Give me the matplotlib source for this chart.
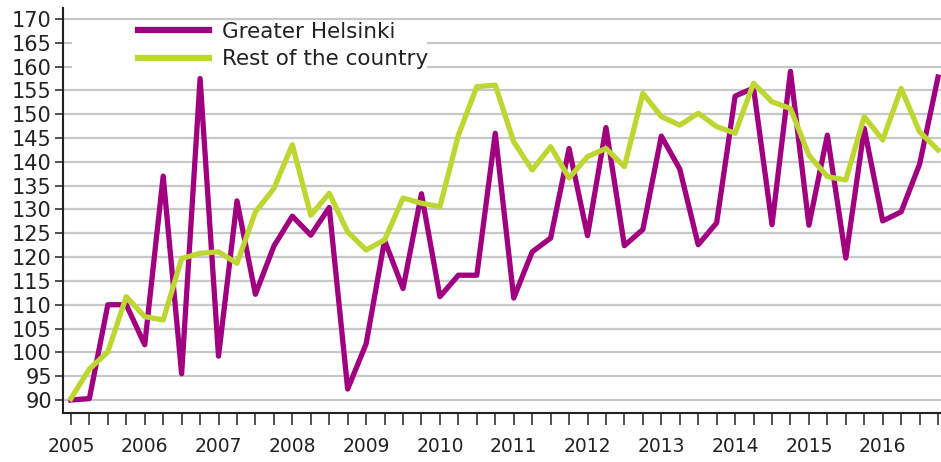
import matplotlib
matplotlib.use("Agg")
import matplotlib.pyplot as plt
from matplotlib.patches import Rectangle

years = ["2005", "2006", "2007", "2008", "2009", "2010",
         "2011", "2012", "2013", "2014", "2015", "2016"]
series_names = ["Greater Helsinki", "Rest of the country"]
helsinki = [90, 90.3, 110, 110, 101.6, 137, 95.5, 157.5, 99.2, 131.8, 112.2, 122.3,
            128.6, 124.6, 130.4, 92.3, 101.8, 123.5, 113.4, 133.3, 111.7, 116.2, 116.2, 146,
            111.4, 121.1, 124, 142.8, 124.5, 147.2, 122.4, 125.8, 145.4, 138.5, 122.6, 127.2,
            153.8, 155.5, 126.8, 159, 126.7, 145.6, 119.8, 147, 127.6, 129.5, 139.5, 157.8]
rest = [90.3, 96.5, 100.1, 111.7, 107.5, 106.8, 119.7, 120.8, 121.1, 118.7, 129.5, 134.4,
        143.6, 128.8, 133.4, 125.3, 121.5, 123.6, 132.4, 131.3, 130.6, 145.6, 155.8, 156.1,
        144.2, 138.3, 143.2, 136.6, 141.1, 142.8, 139, 154.4, 149.5, 147.7, 150.2, 147.4,
        146, 156.5, 152.6, 151.2, 141.4, 136.9, 136.2, 149.5, 144.6, 155.4, 146.3, 142.5]

plt.rcParams['font.family'] = ['DejaVu Sans']
W, H = 941, 462
fig = plt.figure(figsize=(W / 100, H / 100), dpi=100)
ax = fig.add_axes([63 / W, 1 - 413 / H, 1 - 63 / W, (413 - 8) / H])

x = list(range(len(helsinki)))
purple = '#a0007f'
green = '#bed631'
ax.plot(x, helsinki, color=purple, lw=3.8, label=series_names[0], zorder=3)
ax.plot(x, rest, color=green, lw=3.8, label=series_names[1], zorder=4)

ax.set_xlim(-0.43, 47.16)
ax.set_ylim(87.27, 172.3)
ax.set_yticks(list(range(90, 171, 5)))
ax.set_xticks(list(range(0, 48, 4)))
ax.set_xticklabels(years)
ax.set_xticks(list(range(48)), minor=True)

ax.grid(axis='y', color='#c8c8c8', lw=1.6)
ax.set_axisbelow(True)
for s in ['top', 'right']:
    ax.spines[s].set_visible(False)
for s in ['left', 'bottom']:
    ax.spines[s].set_color('#222222')
    ax.spines[s].set_linewidth(1.5)
ax.tick_params(axis='y', length=6, width=1.1, color='#222222', pad=2,
               labelsize=15, labelcolor='#222222')
ax.tick_params(axis='x', which='both', length=8.6, width=1.1, color='#222222',
               pad=8.5, labelsize=13.5, labelcolor='#222222')

# white legend background covering gridlines
rect = Rectangle((72 / W, 1 - 74 / H), (427 - 72) / W, (74 - 21) / H,
                 transform=fig.transFigure, facecolor='white', edgecolor='none',
                 zorder=1)
ax.add_patch(rect)

leg = ax.legend(loc='upper left', bbox_to_anchor=(138 / W, 1 - 22 / H),
                bbox_transform=fig.transFigure, frameon=False, fontsize=15.5,
                handlelength=3.3, handletextpad=0.6, borderpad=0, borderaxespad=0,
                labelspacing=0.34)
for t in leg.get_texts():
    t.set_color('#222222')
for l in leg.get_lines():
    l.set_linewidth(4.5)

fig.savefig('out.png', dpi=100)
